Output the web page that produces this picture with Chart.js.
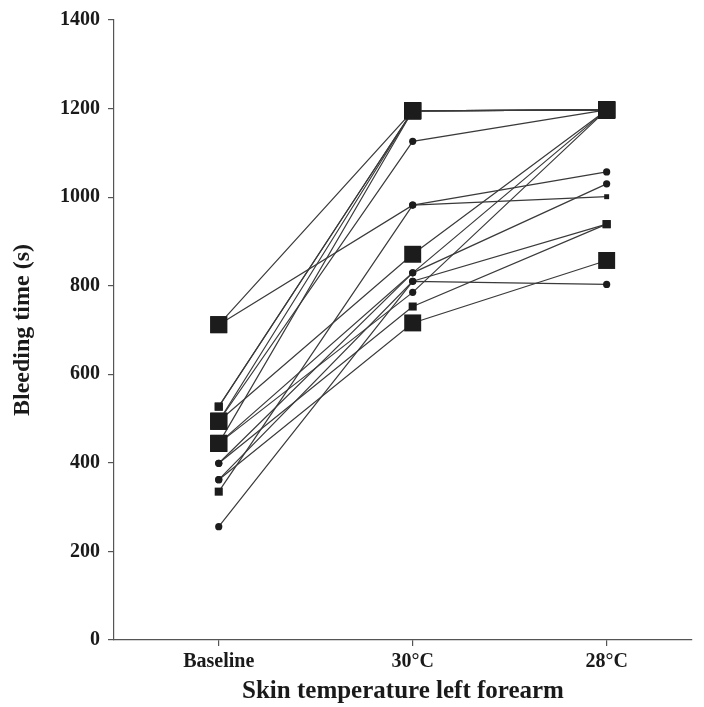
<!DOCTYPE html>
<html>
<head>
<meta charset="utf-8">
<script src="https://cdn.jsdelivr.net/npm/chart.js@4.4.1/dist/chart.umd.min.js"></script>
<style>
  body { margin: 0; background: #fff; }
  #wrap { width: 704px; height: 707px; position: relative; }
</style>
</head>
<body>
<div id="wrap"><canvas id="canvas"></canvas></div>
<script>
// categories and tick labels
var categories = ['Baseline', '30\u00B0C', '28\u00B0C'];
var yTicks = [0, 200, 400, 600, 800, 1000, 1200, 1400];

// bleeding time (s) per subject, one entry per subject
var baseline = [712, 712, 527, 527, 494, 494, 444, 335, 494, 444, 399, 444, 362, 256, 399, 362];
var temp30   = [1195, 982, 1195, 1195, 1195, 1126, 1195, 982, 871, 829, 829, 785, 810, 810, 753, 716];
var temp28   = [1197, 1057, 1197, 1197, 1197, 1197, 1197, 1001, 1197, 1030, 1197, 1197, 939, 803, 939, 857];

// marker kind per subject and column (styling only)
var baseMarks = ['big','big','sq','sq','big','big','big','sq','big','big','dot','big','dot','dot','dot','dot'];
var t30Marks  = ['big','dot','big','big','big','dot','big','dot','big','dot','dot','dot','dot','dot','sq','big'];
var t28Marks  = ['big','dot','big','big','big','big','big','dash','big','dot','big','big','sq','dot','sq','big'];

var markStyle = {
    big:  { style: 'rect', r: 12 },
    sq:   { style: 'rect', r: 5.7 },
    dot:  { style: 'circle', r: 3.6 },
    dash: { style: 'rect', r: 3.5 }
};

var ink = '#1c1c1c';
var serifBold = function (size) {
    return { family: "'Liberation Serif', 'Times New Roman', serif", weight: 'bold', size: size };
};

var datasets = [];
for (var i = 0; i < baseline.length; i++) {
    var marks = [baseMarks[i], t30Marks[i], t28Marks[i]];
    datasets.push({
        data: [
            { x: 0, y: baseline[i] },
            { x: 1, y: temp30[i] },
            { x: 2, y: temp28[i] }
        ],
        borderColor: '#3a3a3a',
        borderWidth: 1.2,
        backgroundColor: ink,
        pointBackgroundColor: ink,
        pointBorderColor: ink,
        pointBorderWidth: 0,
        pointStyle: marks.map(function (m) { return markStyle[m].style; }),
        pointRadius: marks.map(function (m) { return markStyle[m].r; }),
        pointHoverRadius: marks.map(function (m) { return markStyle[m].r; }),
        tension: 0,
        fill: false,
        clip: false
    });
}

window.onload = function () {
    var ctx = document.getElementById('canvas').getContext('2d');
    new Chart(ctx, {
        type: 'line',
        data: { datasets: datasets },
        options: {
            animation: false,
            responsive: true,
            maintainAspectRatio: false,
            layout: { padding: { top: 20, right: 2, left: 0, bottom: 0 } },
            plugins: {
                legend: { display: false },
                tooltip: { enabled: false }
            },
            scales: {
                x: {
                    type: 'linear',
                    min: -0.54,
                    max: 2.44,
                    afterBuildTicks: function (scale) {
                        scale.ticks = [0, 1, 2].map(function (v) { return { value: v }; });
                    },
                    afterFit: function (scale) { scale.height = 67; },
                    ticks: {
                        callback: function (v) { return categories[v]; },
                        color: '#1a1a1a',
                        font: serifBold(20),
                        padding: 4,
                        autoSkip: false,
                        maxRotation: 0
                    },
                    grid: { display: true, drawOnChartArea: false, drawTicks: true, tickLength: 6, color: '#555', lineWidth: 1.2 },
                    border: { display: true, color: '#555', width: 1.2 },
                    title: {
                        display: true,
                        text: 'Skin temperature left forearm',
                        color: '#1a1a1a',
                        font: serifBold(25),
                        padding: { top: 0, bottom: 0 }
                    }
                },
                y: {
                    min: 0,
                    max: 1400,
                    afterBuildTicks: function (scale) {
                        scale.ticks = yTicks.map(function (v) { return { value: v }; });
                    },
                    afterFit: function (scale) { scale.width = 114; },
                    ticks: {
                        callback: function (v) { return String(v); },
                        color: '#1a1a1a',
                        font: serifBold(20),
                        padding: 8
                    },
                    grid: { display: true, drawOnChartArea: false, drawTicks: true, tickLength: 6, color: '#555', lineWidth: 1.2 },
                    border: { display: true, color: '#555', width: 1.2 },
                    title: {
                        display: true,
                        text: 'Bleeding time (s)',
                        color: '#1a1a1a',
                        font: serifBold(24),
                        padding: { top: 8, bottom: 0 }
                    }
                }
            }
        }
    });
};
</script>
</body>
</html>
